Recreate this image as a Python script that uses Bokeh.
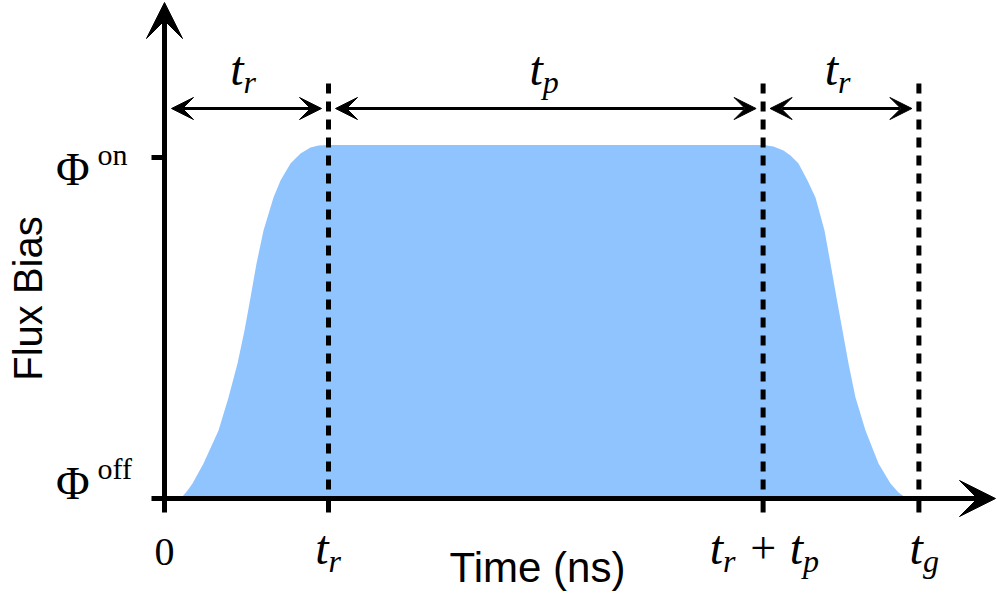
import numpy as np
from bokeh.plotting import figure
from bokeh.models import Range1d, Arrow, VeeHead, ColumnDataSource
from bokeh.core.properties import value
from bokeh.embed import file_html
from bokeh.resources import INLINE

# ---------------- data ----------------
t_r = 10.0          # rise time
t_p = 26.5          # plateau time
t_g = 46.0          # gate time
phi_off = 0.0
phi_on = 1.0

rise_t = [0.366, 0.793, 1.098, 1.402, 1.707, 2.378, 3.293, 3.902, 4.451, 4.878, 5.244,
          5.610, 6.037, 6.646, 7.073, 7.683, 8.293, 8.902, 9.390, 10.0]
rise_v = [0.0, 0.0015, 0.0059, 0.0235, 0.044, 0.1026, 0.1994, 0.2962, 0.3959, 0.4927, 0.5894,
          0.6891, 0.7859, 0.8827, 0.9326, 0.9824, 1.0117, 1.0293, 1.0352, 1.037]
fall_t = [36.524, 37.134, 37.744, 38.171, 38.659, 39.207, 39.695, 40.244, 40.610, 40.976,
          41.341, 41.707, 42.134, 42.744, 43.537, 44.268, 44.756, 45.183, 45.61]
fall_v = [1.037, 1.0323, 1.0205, 1.0059, 0.9824, 0.9326, 0.8827, 0.7859, 0.6891, 0.5894,
          0.4927, 0.3959, 0.2962, 0.1994, 0.1026, 0.044, 0.0176, 0.0029, 0.0]

x_ticks = [0.0, t_r, t_r + t_p, t_g]
y_ticks = [phi_off, phi_on]
y_tick_sups = ["off", "on"]
span_starts = [0.0, t_r, t_r + t_p]
span_ends = [t_r, t_r + t_p, t_g]
span_subs = ["r", "p", "r"]

x_label = "Time (ns)"
y_label = "Flux Bias"

# ---------------- figure ----------------
PX = 16.4   # px per time unit
PY = 341.0  # px per flux unit
W, H = 997, 598
OX, OY = 164, 498  # pixel position of the origin
p = figure(width=W, height=H,
           x_range=Range1d(-OX / PX, (W - OX) / PX),
           y_range=Range1d(-(H - OY) / PY, OY / PY),
           output_backend="svg", toolbar_location=None, min_border=0,
           x_axis_type=None, y_axis_type=None)
p.outline_line_color = None
p.background_fill_color = "white"
p.border_fill_color = "white"

# filled pulse
pulse_t = list(rise_t) + list(fall_t)
pulse_v = list(rise_v) + list(fall_v)
p.varea(x=pulse_t, y1=[0.0] * len(pulse_t), y2=pulse_v, fill_color="#90C4FF", fill_alpha=1.0)

# dashed verticals
dash_top = 415 / PY
p.segment(x0=x_ticks[1:], y0=[dash_top] * 3, x1=x_ticks[1:], y1=[0.0] * 3,
          line_color="black", line_width=5, line_dash="10 8", line_cap="butt")

# tick marks
p.segment(x0=x_ticks, y0=[0.0] * 4, x1=x_ticks, y1=[-14 / PY] * 4,
          line_color="black", line_width=5, line_cap="butt")
p.segment(x0=[0.0] * 2, y0=y_ticks, x1=[-13 / PX] * 2, y1=y_ticks,
          line_color="black", line_width=5, line_cap="butt")

# axes with arrow heads
p.add_layout(Arrow(x_start=-2.5 / PX, y_start=0.0, x_end=(995 - OX) / PX, y_end=0.0,
                   line_color="black", line_width=5,
                   end=VeeHead(size=36, fill_color="black", line_color="black", line_width=1)))
p.add_layout(Arrow(x_start=0.0, y_start=-2.5 / PY, x_end=0.0, y_end=(OY - 2) / PY,
                   line_color="black", line_width=5,
                   end=VeeHead(size=36, fill_color="black", line_color="black", line_width=1)))

# double arrows for the spans
inset = 7 / PX
arr_y = 390 / PY
src = ColumnDataSource(dict(xs=[s + inset for s in span_starts], xe=[e - inset for e in span_ends],
                            ys=[arr_y] * 3, ye=[arr_y] * 3))
p.add_layout(Arrow(source=src, x_start="xs", y_start="ys", x_end="xe", y_end="ye",
                   line_color="black", line_width=3,
                   start=VeeHead(size=22, fill_color="black", line_color="black", line_width=1),
                   end=VeeHead(size=22, fill_color="black", line_color="black", line_width=1)))

K = 0.3  # baseline correction (fraction of font size)


def txt(x, y, s, size, italic=False, align="left", dx=0, dy=0,
        font="Liberation Serif", baseline="alphabetic", angle=0.0):
    if angle:
        dx = dx - K * size
    else:
        dy = dy - K * size
    p.text(x=[x], y=[y], text=[s], text_font=value(font), text_font_size=f"{size}px",
           text_font_style="italic" if italic else "normal", text_align=align,
           text_baseline=baseline, x_offset=dx, y_offset=dy, text_color="black", angle=angle)


TS, SS = 48, 32   # main / subscript font sizes
SUB = 9           # subscript drop (px)

# span labels on top
v_top = (OY - 82) / PY
for s, e, sub in zip(span_starts, span_ends, span_subs):
    m = (s + e) / 2
    txt(m, v_top, "t", TS, italic=True, align="right", dx=-3)
    txt(m, v_top, sub, SS, italic=True, align="left", dx=-3, dy=SUB)

# x tick labels
v_bot = (OY - 561) / PY
txt(x_ticks[0], v_bot, "0", 40, align="center", dy=2)
txt(x_ticks[1], v_bot, "t", TS, italic=True, align="right", dx=0)
txt(x_ticks[1], v_bot, "r", SS, italic=True, align="left", dx=0, dy=SUB)
txt(x_ticks[2], v_bot, "t", TS, italic=True, align="right", dx=-40)
txt(x_ticks[2], v_bot, "r", SS, italic=True, align="left", dx=-40, dy=SUB)
txt(x_ticks[2], v_bot, "+", 46, align="center", dx=0)
txt(x_ticks[2], v_bot, "t", TS, italic=True, align="right", dx=40)
txt(x_ticks[2], v_bot, "p", SS, italic=True, align="left", dx=40, dy=SUB)
txt(x_ticks[3], v_bot, "t", TS, italic=True, align="right", dx=4)
txt(x_ticks[3], v_bot, "g", SS, italic=True, align="left", dx=4, dy=SUB)

# y tick labels
phi_dy = {"off": -1, "on": 26}
for yv, sup in zip(y_ticks, y_tick_sups):
    d = phi_dy[sup]
    txt(0.0, yv, "Φ", 46, align="right", dx=-75, dy=d)
    txt(0.0, yv, sup, 30, align="left", dx=-67, dy=d - 20)

# axis titles
txt((537 - OX) / PX, (OY - 580) / PY, x_label, 42, font="Liberation Sans", align="center")
txt((39 - OX) / PX, (OY - 298) / PY, y_label, 40, font="Liberation Sans", align="center",
    angle=np.pi / 2)

open("out.html", "w", encoding="utf-8").write(file_html(p, INLINE, title="Flux pulse"))
